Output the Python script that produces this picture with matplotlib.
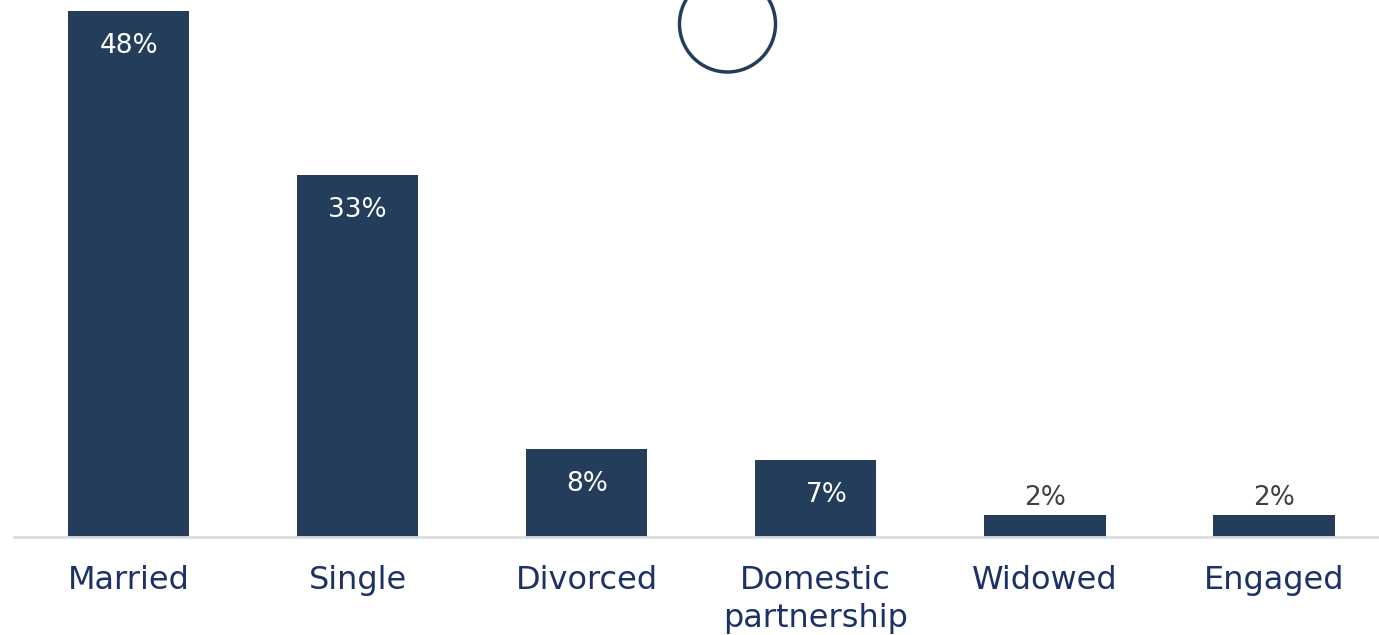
import matplotlib.pyplot as plt
from matplotlib.patches import Ellipse

# Dados
categorias = ['Married', 'Single', 'Divorced', 'Domestic\npartnership', 'Widowed', 'Engaged']
valores = [48, 33, 8, 7, 2, 2]
rotulos = ['48%', '33%', '8%', '7%', '2%', '2%']

cor_barra = '#243d5a'
cor_texto = '#1c3266'
fonte = 'DejaVu Sans'

fig = plt.figure(figsize=(13.79, 6.35), dpi=100)
ax = fig.add_axes([14 / 1379, 98 / 635, 1374.5 / 1379, 537 / 635])

x = range(len(categorias))
barras = ax.bar(x, valores, width=0.53, color=cor_barra)

ax.set_xlim(-0.5, 5.5)
ax.set_ylim(0, 49)

# Rótulos de dados: dentro da barra (branco) ou acima (cinza) se a barra for baixa
for i, (b, v, r) in enumerate(zip(barras, valores, rotulos)):
    cx = b.get_x() + b.get_width() / 2
    if v >= 5:
        dx = 0.05 if i == 3 else 0
        ax.annotate(r, (cx + dx, v), xytext=(0, -35), textcoords='offset pixels',
                    ha='center', va='center', color='white', fontsize=19, family=fonte)
    else:
        ax.annotate(r, (cx, v), xytext=(0, 17), textcoords='offset pixels',
                    ha='center', va='center', color='#404040', fontsize=19, family=fonte)

ax.set_xticks(list(x))
ax.set_xticklabels(categorias, fontsize=23, color=cor_texto, family=fonte, linespacing=1.3)
ax.tick_params(axis='x', length=0, pad=20)
ax.set_yticks([])

for s in ['top', 'right', 'left']:
    ax.spines[s].set_visible(False)
ax.spines['bottom'].set_color('#d9dde2')
ax.spines['bottom'].set_linewidth(2)

# Círculo decorativo no topo
fig.patches.append(Ellipse((727.5 / 1379, 1 - 24 / 635), 96 / 1379, 96 / 635,
                           transform=fig.transFigure, fill=False,
                           edgecolor=cor_barra, linewidth=2.5))

fig.savefig('out.png', dpi=100)
